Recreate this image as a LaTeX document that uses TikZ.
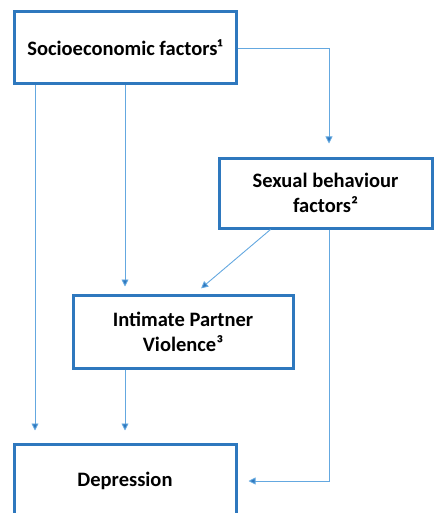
\documentclass[tikz,border=0pt]{standalone}
\usepackage{fontspec}
\setmainfont{Carlito}
\usetikzlibrary{arrows.meta}
\definecolor{boxblue}{RGB}{46,120,190}
\definecolor{lineblue}{RGB}{100,168,224}

\begin{document}
\begin{tikzpicture}[x=1pt,y=-1pt,
    factor/.style={draw=boxblue,line width=3pt,fill=white,align=center,
        font=\bfseries\fontsize{20.5}{25}\selectfont,inner sep=0pt},
    link/.style={draw=lineblue,line width=0.9pt,
        -{Triangle[width=7pt,length=7pt,fill=boxblue]}}]
    \useasboundingbox (0,0) rectangle (433,513);
    \node[factor,minimum width=222pt,minimum height=72pt] (socio) at (125,48) {Socioeconomic factors¹};
    \node[factor,minimum width=213pt,minimum height=70pt] (sexual) at (325.5,193) {Sexual behaviour\\factors²};
    \node[factor,minimum width=220pt,minimum height=73pt] (ipv) at (183,331.5) {Intimate Partner\\Violence³};
    \node[factor,minimum width=222pt,minimum height=74pt] (depr) at (125,481) {Depression};

    \draw[link,shorten >=13pt] (socio.east) -| ([xshift=3.5pt]sexual.north);
    \draw[link,shorten >=12pt] ([xshift=-90pt]socio.south) -- ([xshift=-90pt]depr.north);
    \draw[link,shorten >=7pt] (socio.south) -- (ipv.north -| socio.south);
    \draw[link,shorten >=12pt] (ipv.south -| depr.north) -- (depr.north);
    \draw[link,shorten >=8pt] ([xshift=-55pt]sexual.south) -- ([xshift=12pt]ipv.north);
    \draw[link,shorten >=11pt] ([xshift=3.5pt]sexual.south) |- (depr.east);
\end{tikzpicture}
\end{document}
